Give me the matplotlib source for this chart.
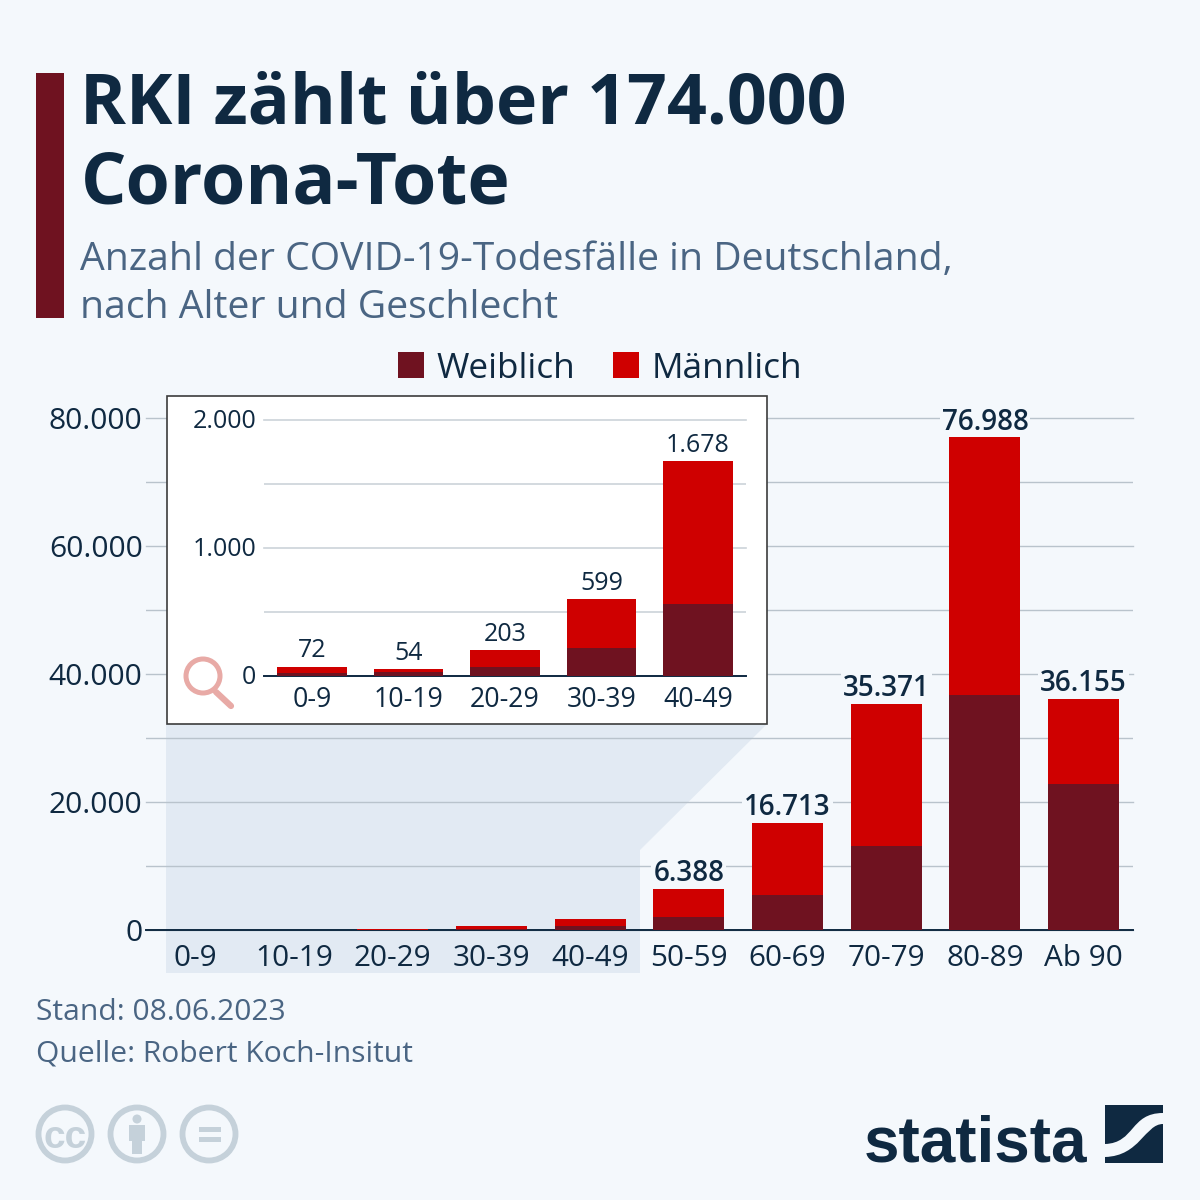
import matplotlib

matplotlib.use("Agg")
import matplotlib.pyplot as plt
from matplotlib.patches import Circle, PathPatch, Polygon, Rectangle
from matplotlib.path import Path
from matplotlib.transforms import ScaledTranslation

plt.rcParams["font.family"] = ["Open Sans", "DejaVu Sans"]

BACKGROUND = "#f4f8fc"
NAVY = "#0f2941"
SLATE = "#4a6583"
DARK_RED = "#6f1220"
RED = "#cf0000"
GRID = "#b9c3cc"
ICON = "#c5d1da"

AGE_GROUPS = ["0-9", "10-19", "20-29", "30-39", "40-49", "50-59", "60-69", "70-79", "80-89", "Ab 90"]
TOTALS = [72, 54, 203, 599, 1678, 6388, 16713, 35371, 76988, 36155]
FEMALE = [26, 31, 73, 219, 565, 2030, 5470, 13125, 36720, 22800]

INSET_COUNT = 5


def px_rect(left, top, right, bottom):
    return [left / 1200, 1 - bottom / 1200, (right - left) / 1200, (bottom - top) / 1200]


def fmt(value):
    return f"{value:,}".replace(",", ".")


def draw_bars(ax, labels, totals, female, first_label, label_size, label_weight, label_pad, halo):
    male = [t - f for t, f in zip(totals, female)]
    x = range(len(labels))
    bars_f = ax.bar(x, female, width=0.72, color=DARK_RED, zorder=3, label="Weiblich")
    bars_m = ax.bar(x, male, width=0.72, bottom=female, color=RED, zorder=3, label="Männlich")
    ax.set_xticks(list(x), labels)
    ax.set_xlim(-0.5, len(labels) - 0.5)
    for spine in ["top", "right", "left"]:
        ax.spines[spine].set_visible(False)
    ax.spines["bottom"].set_color(NAVY)
    ax.spines["bottom"].set_linewidth(1.4)
    ax.spines["bottom"].set_zorder(2.8)
    ax.patch.set_alpha(0)
    ax.set_axisbelow(True)
    for i, total in enumerate(totals):
        if i < first_label:
            continue
        # below the bars so the halo can't bite into a bar top
        text = ax.annotate(
            fmt(total),
            xy=(i, total),
            xytext=(0, label_pad),
            textcoords="offset points",
            ha="center",
            va="bottom",
            fontsize=label_size,
            fontweight=label_weight,
            color=NAVY,
            zorder=2.5,
        )
        if halo:
            text.set_bbox(dict(facecolor=BACKGROUND, edgecolor="none", pad=1.5))
    return bars_f, bars_m


fig = plt.figure(figsize=(12, 12), dpi=100, facecolor=BACKGROUND)

# page furniture, drawn in pixel coordinates
page = fig.add_axes([0, 0, 1, 1], zorder=0)
page.set_xlim(0, 1200)
page.set_ylim(1200, 0)
page.axis("off")

page.add_patch(Rectangle((36, 73), 28, 245, color=DARK_RED, lw=0))
page.text(80.5, 124, "RKI zählt über 174.000", fontsize=50.3, fontweight="bold", color=NAVY, va="baseline")
page.text(80.5, 203, "Corona-Tote", fontsize=51.5, fontweight="bold", color=NAVY, va="baseline")
page.text(80, 270, "Anzahl der COVID-19-Todesfälle in Deutschland,", fontsize=28.2, color=SLATE, va="baseline")
page.text(80, 318, "nach Alter und Geschlecht", fontsize=28.2, color=SLATE, va="baseline")

# zoom funnel behind the first five groups
page.add_patch(Polygon([(166, 724), (767, 724), (640, 850), (640, 973), (166, 973)], color="#e2eaf3", lw=0))

page.text(36, 1020, "Stand: 08.06.2023", fontsize=21.65, color=SLATE, va="baseline")
page.text(36, 1062, "Quelle: Robert Koch-Insitut", fontsize=21.65, color=SLATE, va="baseline")

for cx in [65, 137, 209]:
    page.add_patch(Circle((cx, 1134), 26.5, facecolor="none", edgecolor=ICON, lw=4.2))
page.text(65, 1134, "cc", fontsize=28, fontweight="bold", family="Liberation Sans", color=ICON, ha="center", va="center_baseline")
page.add_patch(Circle((137, 1119), 4.5, color=ICON, lw=0))
page.add_patch(Rectangle((129, 1125), 16, 16, color=ICON, lw=0))
page.add_patch(Rectangle((132, 1125), 10, 29, color=ICON, lw=0))
page.add_patch(Rectangle((199, 1127), 22, 5, color=ICON, lw=0))
page.add_patch(Rectangle((199, 1137), 22, 5, color=ICON, lw=0))

page.text(864, 1161, "statista", fontsize=46, fontweight="bold", family="Liberation Sans", color=NAVY, va="baseline")
upper = Path(
    [(1105, 1105), (1163, 1105), (1163, 1113), (1130, 1113), (1135, 1143), (1105, 1144), (1105, 1105)],
    [Path.MOVETO, Path.LINETO, Path.LINETO, Path.CURVE4, Path.CURVE4, Path.CURVE4, Path.CLOSEPOLY],
)
lower = Path(
    [(1163, 1124), (1145, 1124), (1140, 1156), (1105, 1157), (1105, 1163), (1163, 1163), (1163, 1124)],
    [Path.MOVETO, Path.CURVE4, Path.CURVE4, Path.CURVE4, Path.LINETO, Path.LINETO, Path.CLOSEPOLY],
)
page.add_patch(PathPatch(upper, color=NAVY, lw=0))
page.add_patch(PathPatch(lower, color=NAVY, lw=0))

# main chart
ax = fig.add_axes(px_rect(146, 418, 1133, 930), zorder=1)
bars_f, bars_m = draw_bars(ax, AGE_GROUPS, TOTALS, FEMALE, INSET_COUNT, 20, "semibold", 0.5, True)
ax.set_ylim(0, 80000)
ax.set_yticks([0, 20000, 40000, 60000, 80000], [fmt(v) for v in [0, 20000, 40000, 60000, 80000]])
ax.set_yticks([10000, 30000, 50000, 70000], minor=True)
ax.grid(True, axis="y", which="both", color=GRID, lw=1)
ax.tick_params(axis="both", which="both", length=0, labelcolor=NAVY)
ax.tick_params(axis="x", labelsize=21.4, pad=10)
ax.tick_params(axis="y", labelsize=21.6, pad=2.5)
fig.legend(
    handles=[bars_f, bars_m],
    loc="center",
    bbox_to_anchor=(600 / 1200, 1 - 368.5 / 1200),
    ncol=2,
    frameon=False,
    fontsize=25.3,
    labelcolor=NAVY,
    handlelength=0.74,
    handleheight=0.74,
    handletextpad=0.38,
    columnspacing=1.05,
)

# white inset box with the magnifier
box = fig.add_axes([0, 0, 1, 1], zorder=2)
box.set_xlim(0, 1200)
box.set_ylim(1200, 0)
box.axis("off")
box.patch.set_alpha(0)
box.add_patch(Rectangle((166.5, 396), 600, 327.5, facecolor="white", edgecolor="#3c3c3c", lw=1.2))
box.add_patch(Circle((203, 676), 17, facecolor="none", edgecolor="#e8aaa6", lw=3.6))
box.plot([216, 231], [692, 706], color="#e8aaa6", lw=4.5, solid_capstyle="round")

# inset chart
inset = fig.add_axes(px_rect(264, 420, 746, 676), zorder=3)
draw_bars(inset, AGE_GROUPS[:INSET_COUNT], TOTALS[:INSET_COUNT], FEMALE[:INSET_COUNT], 0, 18, "medium", 2.5, False)
inset.set_ylim(0, 2000)
inset.set_yticks([0, 1000, 2000], [fmt(v) for v in [0, 1000, 2000]])
inset.set_yticks([500, 1500], minor=True)
inset.grid(True, axis="y", which="both", color="#ccd3d9", lw=1.2)
inset.tick_params(axis="both", which="both", length=0, labelcolor=NAVY)
inset.tick_params(axis="x", labelsize=19.2, pad=7.5)
inset.tick_params(axis="y", labelsize=18, pad=5.5)
lift = ScaledTranslation(0, 2 / 100, fig.dpi_scale_trans)
for label in inset.get_yticklabels():
    label.set_transform(label.get_transform() + lift)

for chart in [ax, inset]:
    for line in chart.get_ygridlines():
        line.set_clip_on(False)

fig.savefig("out.png", dpi=100)
